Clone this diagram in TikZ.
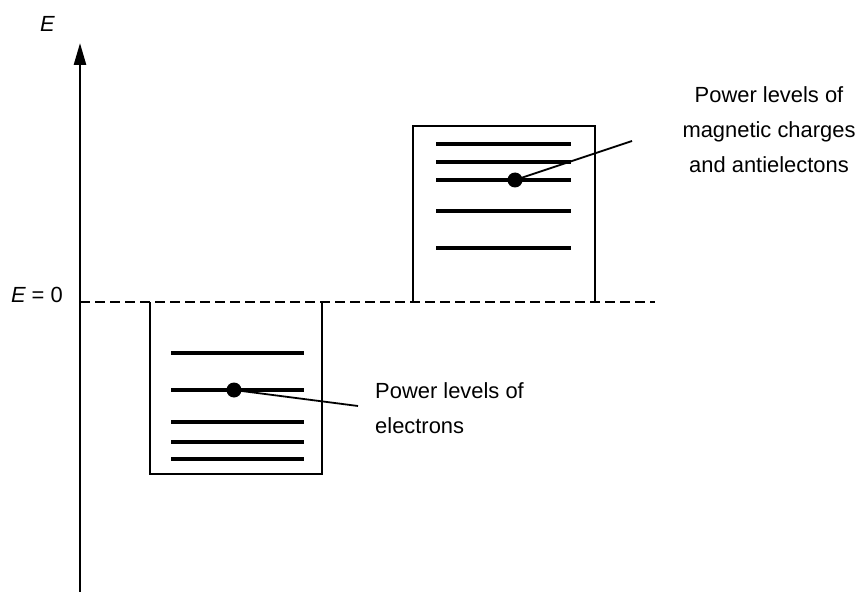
\documentclass[tikz,border=0pt]{standalone}
\usepackage{fontspec}
\setmainfont{Liberation Sans}
\usetikzlibrary{arrows.meta}
\begin{document}
\begin{tikzpicture}[x=1bp,y=-1bp,
  level/.style={line width=3.2bp},
  wall/.style={line width=2.8bp},
  lead/.style={line width=1.8bp},
  zero/.style={line width=2.8bp,dash pattern=on 10bp off 5bp},
  dotnode/.style={circle,fill=black,inner sep=0pt,minimum size=15bp},
  lbl/.style={font=\fontsize{22}{35}\selectfont,inner sep=0pt}]
\useasboundingbox (0,0) rectangle (858,592);
% axis
\coordinate (axb) at (80,592);
\coordinate (axt) at (80,43);
\draw[line width=2.6bp,-{Triangle[length=22bp,width=12bp]}] (axb) -- (axt);
\node[lbl,anchor=base west] (elbl) at (40,32) {\itshape E};
\node[lbl,anchor=base east] (ezero) at (63,302) {{\itshape E} = 0};
% zero line
\coordinate (z0) at (80,302);
\coordinate (z1) at (655,302);
\draw[zero] (z0) -- (z1);
% lower well
\draw[wall] (150,302) -- (150,474) -- (322,474) -- (322,302);
\foreach \y in {353,390,422,442,459}
  \draw[level] (171,\y) -- (304,\y);
\node[dotnode] (edot) at (234,390) {};
\coordinate (eend) at (358,406);
\draw[lead] (edot.center) -- (eend);
\node[lbl,anchor=base west] (et1) at (375,398) {Power levels of};
\node[lbl,anchor=base west] (et2) at (375,433) {electrons};
% upper well
\draw[wall] (413,302) -- (413,126) -- (595,126) -- (595,302);
\foreach \y in {144,162,180,211,248}
  \draw[level] (436,\y) -- (571,\y);
\node[dotnode] (mdot) at (515,180) {};
\coordinate (mend) at (632,141);
\draw[lead] (mdot.center) -- (mend);
\node[lbl,anchor=base] (mt1) at (769,103) {Power levels of};
\node[lbl,anchor=base] (mt2) at (769,138) {magnetic charges};
\node[lbl,anchor=base] (mt3) at (769,173) {and antielectons};
\end{tikzpicture}
\end{document}
